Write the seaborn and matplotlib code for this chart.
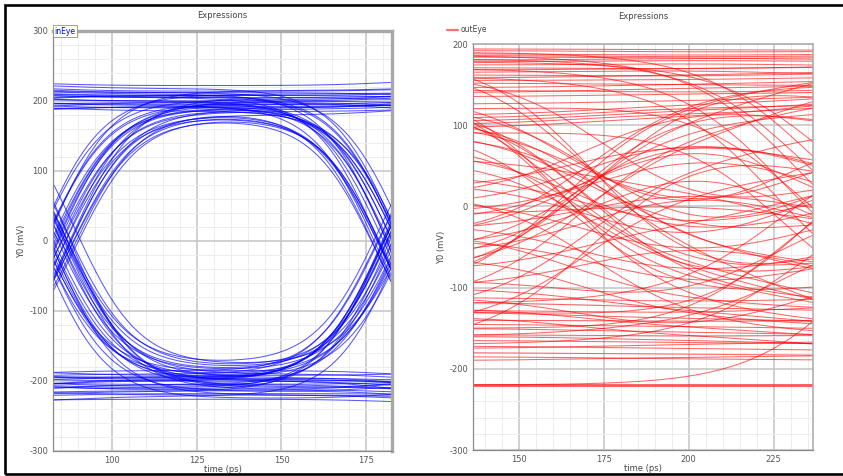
import numpy as np
import pandas as pd
import matplotlib
matplotlib.use("Agg")
import matplotlib.pyplot as plt
from matplotlib.ticker import MultipleLocator
from matplotlib.lines import Line2D
from matplotlib.patches import Rectangle
import seaborn as sns

# ---------------- inEye: one row per captured trace ----------------
# level before the bit, during the bit, after the bit (mV) and the two crossing times (ps)
in_start = [228, 215, 205, 198, 221, 190, 210, 185, 200,
            -186, -195, -205, -215, -228, -190, -200, -222, -210,
            -200, -190, -215, -205, -225, -195, -210, -185, -220,
            205, 195, 220, 210, 188, 200, 215, 225, 192,
            -205, -195, -215, -190, -200, -220, -210, -198, -185,
            200, 210, 190, 215, 195, 205, 220, 185, 198,
            195, 210, 200, 220, 188, 205, 215, 192, 225,
            -210, -200, -195, -220, -205, -230, -190, -215, -200,
            212, 196, -192, -218, -208, -188, 198, 212,
            -192, -212, 208, 192, 202, 186, -204, -196]
in_mid = [222, 212, 200, 195, 214, 198, 205, 192, 208,
          -192, -200, -212, -220, -226, -185, -205, -218, -198,
          195, 185, 210, 200, 190, 205, 215, 180, 198,
          200, 198, 212, 205, 192, 208, 210, 218, 186,
          178, 185, 192, 175, 198, 182, 188, 176, 195,
          -180, -188, -195, -178, -200, -185, -192, -182, -198,
          -205, -195, -215, -200, -210, -225, -190, -220, -208,
          -200, -208, -190, -215, -212, -222, -198, -205, -195,
          208, 190, -196, -214, 188, 202, 194, 206,
          180, 190, -186, -176, -198, -212, -210, -194]
in_end = [230, 206, 210, 192, 218, 188, 200, 196, 214,
          -188, -210, -198, -225, -232, -195, -215, -220, -204,
          200, 190, 212, 196, 205, 208, 220, 192, 185,
          -198, -205, -190, -215, -200, -225, -210, -195, -220,
          -200, -212, -190, -205, -218, -195, -208, -225, -200,
          205, 195, 215, 190, 200, 220, 185, 210, 198,
          -200, -210, -205, -222, -195, -215, -200, -228, -212,
          195, 210, 200, 188, 215, 205, 225, 192, 200,
          204, 198, -200, -226, 194, 212, -208, -192,
          -196, -214, 196, 212, -206, -218, 202, 190]
in_rise = [80, 84, 78, 86, 82, 88, 81, 85, 83,
           87, 79, 83, 89, 81, 84, 78, 86, 82,
           80, 84, 78, 86, 82, 88, 81, 85, 83,
           82, 86, 80, 84, 88, 79, 85, 83, 87,
           85, 89, 82, 88, 80, 86, 84, 89, 83,
           87, 79, 83, 89, 81, 84, 78, 86, 82,
           82, 86, 80, 84, 88, 79, 85, 83, 87,
           80, 84, 78, 86, 82, 88, 81, 85, 83,
           84, 81, 85, 80, 87, 79, 82, 86,
           88, 81, 83, 86, 80, 87, 84, 82]
in_fall = [180, 183, 186, 179, 182, 185, 181, 184, 187,
           184, 179, 182, 187, 180, 183, 178, 185, 181,
           181, 185, 179, 183, 186, 180, 184, 182, 178,
           180, 183, 186, 179, 182, 185, 181, 184, 187,
           180, 178, 184, 178, 182, 179, 185, 181, 183,
           184, 179, 182, 187, 180, 183, 178, 185, 181,
           181, 185, 179, 183, 186, 180, 184, 182, 178,
           180, 183, 186, 179, 182, 185, 181, 184, 187,
           183, 180, 181, 186, 182, 185, 178, 184,
           179, 186, 185, 179, 182, 180, 180, 185]

# ---------------- outEye: one row per captured trace ----------------
out_start = [192, 188, 184, 180, 174, 168, 162, 158, 152, 146, 140, 165,
             104, 100, 108, 96, 112,
             190, 186, 178, 170, 160, 182,
             120, 130, 110, 95, 140, 125, 150, 105, 90,
             175, 185, 165,
             -60, -100, -80, -40, -20, -130, -110, -50, -150, -90, -170,
             -30, 40, -60, 70, -10,
             0, 20, -10,
             10, -20, 30, -40,
             -118, -130, -140, -150, -158, -165, -172, -180, -185, -125, -135, -100,
             -150, -170, -130, -160, -120,
             -220, -219, -221, -220,
             -60, -30, 20, -90, -110,
             194, 186, 178, 171, 155, 143, 135, 126,
             135, 100, 80, 60, 150,
             -40, -70, -120, 10,
             -112, -145, -175, -190, -128, -160,
             -80, 60, -100,
             120, 90]
out_mid = [190, 186, 183, 182, 176, 170, 160, 162, 150, 150, 146, 168,
           118, 114, 122, 110, 126,
           188, 182, 176, 166, 152, 178,
           -110, -90, -70, -40, -30, -50, -130, -20, -60,
           -60, -100, -20,
           110, 130, 90, 95, 100, 60, 140, 70, 30, 120, 80,
           25, -35, 30, -45, 5,
           95, 85, 75,
           -70, -90, -60, -110,
           -125, -138, -142, -155, -160, -168, -175, -182, -188, -150, -160, -130,
           -155, -165, -140, -150, -115,
           -220, -219, -221, -220,
           -140, -120, -150, -125, -160,
           193, 184, 180, 169, 156, 140, 138, 130,
           -80, -120, -90, -100, -100,
           150, 160, 100, 130,
           -118, -148, -170, -186, -132, -165,
           -20, 20, -40,
           130, 100]
out_end = [191, 188, 180, 184, 172, 172, 165, 168, 148, 156, 150, 160,
           132, 128, 126, 136, 140,
           -60, -90, -40, -110, -130, -70,
           -120, -60, -150, -10, 100, 60, -150, 80, -100,
           -80, -40, 40,
           120, 90, 160, 20, -30, 100, 170, -60, 60, 180, 20,
           -20, 30, -40, 20, -30,
           20, 40, -10,
           0, -40, 50, -60,
           -130, -145, -140, -160, -158, -170, -178, -184, -190, -165, -178, -150,
           60, 20, 100, -20, 80,
           -220, -219, -221, 40,
           -150, -130, -160, 10, -80,
           192, 186, 178, 174, 160, 146, 142, 138,
           -130, -90, -140, -60, -140,
           150, 120, 140, 90,
           -112, -152, -165, -182, -120, -172,
           40, -50, -100,
           -100, -140]
out_rise = [170, 168, 172, 166, 170, 174, 168, 172, 166, 170, 174, 170,
            170, 166, 172, 168, 174,
            170, 170, 170, 170, 170, 170,
            172, 168, 176, 170, 166, 174, 164, 170, 178,
            168, 172, 176,
            170, 166, 172, 168, 174, 170, 164, 176, 170, 168, 172,
            170, 170, 172, 168, 170,
            170, 166, 174,
            170, 168, 172, 176,
            170, 166, 172, 168, 170, 174, 170, 166, 172, 170, 168, 172,
            170, 170, 170, 170, 170,
            170, 170, 170, 170,
            170, 166, 172, 170, 170,
            170, 168, 172, 166, 170, 174, 168, 172,
            162, 166, 170, 172, 160,
            172, 176, 168, 170,
            170, 168, 172, 166, 170, 174,
            170, 170, 170,
            170, 170]
out_fall = [232, 236, 230, 234, 238, 232, 230, 236, 234, 228, 236, 232,
            232, 236, 230, 234, 238,
            236, 232, 240, 228, 226, 234,
            232, 232, 230, 236, 228, 234, 232, 230, 236,
            232, 236, 230,
            232, 236, 230, 234, 232, 228, 236, 230, 238, 232, 234,
            232, 232, 230, 234, 232,
            232, 230, 236,
            232, 234, 230, 228,
            232, 236, 230, 234, 232, 238, 230, 232, 236, 232, 234, 230,
            228, 232, 236, 230, 226,
            232, 232, 232, 250,
            232, 234, 230, 226, 230,
            232, 236, 230, 234, 232, 238, 230, 232,
            232, 230, 234, 232, 236,
            232, 236, 230, 232,
            232, 234, 230, 236, 232, 230,
            232, 230, 234,
            232, 228]

IN_XLIM = (82.6, 182.6)
OUT_XLIM = (136.6, 236.6)
IN_TAU = 19.0
OUT_TAU = 32.0


def edge(x):
    return 0.5 * (1.0 + np.tanh(x))


def traces_frame(start, mid, end, rise, fall, xlim, tau):
    t = np.linspace(xlim[0], xlim[1], 300)
    rows = []
    for i, (a, b, c, ta, tb) in enumerate(zip(start, mid, end, rise, fall)):
        v = a + (b - a) * edge((t - ta) / tau) + (c - b) * edge((t - tb) / tau)
        rows.append(pd.DataFrame({"time": t, "mV": v, "trace": i}))
    return pd.concat(rows, ignore_index=True)


df_in = traces_frame(in_start, in_mid, in_end, in_rise, in_fall, IN_XLIM, IN_TAU)
df_out = traces_frame(out_start, out_mid, out_end, out_rise, out_fall, OUT_XLIM, OUT_TAU)

sns.set_theme(style="white")
plt.rcParams["font.family"] = ["DejaVu Sans"]
plt.rcParams["axes.unicode_minus"] = False

W, H = 843, 476
fig = plt.figure(figsize=(W / 100, H / 100), dpi=100)
fig.patch.set_facecolor("white")


def px_axes(x0, y0, x1, y1):
    return fig.add_axes([x0 / W, 1 - y1 / H, (x1 - x0) / W, (y1 - y0) / H])


ax1 = px_axes(53, 31, 392, 451)
ax2 = px_axes(473, 44, 813, 450)

sns.lineplot(data=df_in, x="time", y="mV", units="trace", estimator=None,
             sort=False, color="#0000ff", linewidth=0.75, alpha=0.65,
             legend=False, ax=ax1)
sns.lineplot(data=df_out, x="time", y="mV", units="trace", estimator=None,
             sort=False, color="#ff0000", linewidth=0.75, alpha=0.6,
             legend=False, ax=ax2)


def style_axes(ax, xlim, ylim, heavy_frame, title_pad):
    ax.set_xlim(*xlim)
    ax.set_ylim(*ylim)
    ax.xaxis.set_major_locator(MultipleLocator(25))
    ax.xaxis.set_minor_locator(MultipleLocator(5))
    ax.yaxis.set_major_locator(MultipleLocator(100))
    ax.yaxis.set_minor_locator(MultipleLocator(20))
    ax.set_axisbelow(True)
    ax.grid(which="major", color="#c4c4c4", linewidth=1.1)
    ax.grid(which="minor", color="#ededed", linewidth=0.7)
    ax.tick_params(which="major", direction="out", length=2.5, width=0.7,
                   color="#808080", labelsize=6, labelcolor="#555555", pad=1)
    ax.tick_params(which="minor", direction="out", length=1.8, width=0.6,
                   color="#909090")
    for side in ("left", "bottom"):
        ax.spines[side].set_color("#8a8a8a")
        ax.spines[side].set_linewidth(0.9)
    for side in ("top", "right"):
        ax.spines[side].set_color("#a8a8a8")
        ax.spines[side].set_linewidth(2.4 if heavy_frame else 1.1)
    ax.set_title("Expressions", fontsize=6, color="#444444", pad=title_pad)
    ax.set_xlabel("time (ps)", fontsize=6, color="#444444", labelpad=0)
    ax.set_ylabel("Y0 (mV)", fontsize=6, color="#444444", labelpad=2)


style_axes(ax1, IN_XLIM, (-300, 300), True, 9)
style_axes(ax2, OUT_XLIM, (-300, 200), False, 18)

# series tags
ax1.text(0.004, 1.0, "inEye", transform=ax1.transAxes, fontsize=5.5,
         color="#0000ff", ha="left", va="center",
         bbox=dict(boxstyle="square,pad=0.2", fc="white", ec="#909090", lw=0.6))
ax2.legend(handles=[Line2D([], [], color="#ff7070", linewidth=1.6)],
           labels=["outEye"], loc="center left",
           bbox_to_anchor=(440 / W, 1 - 30 / H), bbox_transform=fig.transFigure,
           frameon=False, fontsize=5.5, handlelength=1.4, handletextpad=0.4,
           labelcolor="#444444")

# outer black frame
fig.patches.append(Rectangle((4.7 / W, 1 - 473.8 / H), (W + 10) / W, (473.8 - 4.7) / H,
                             transform=fig.transFigure, fill=False,
                             edgecolor="black", linewidth=1.9, clip_on=False))

fig.savefig("out.png", dpi=100)
